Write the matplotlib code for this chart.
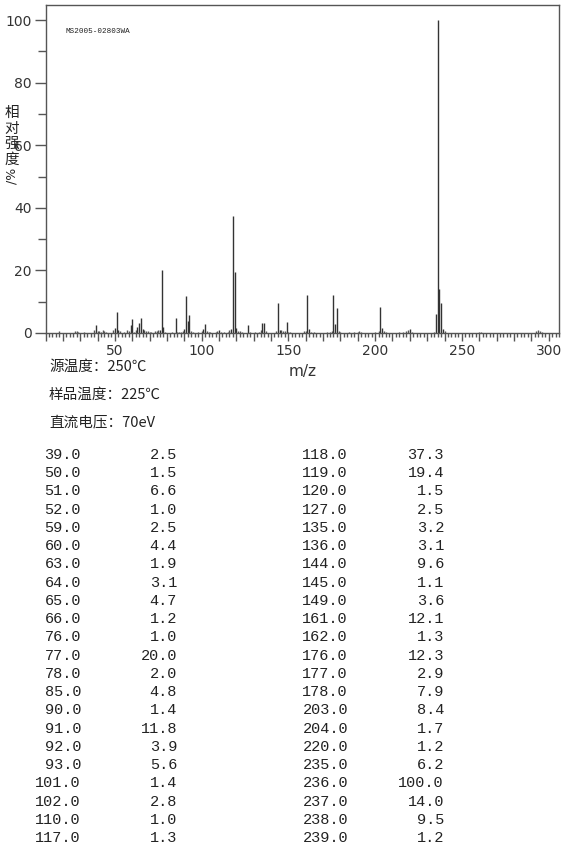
"""
Mass spectrum (MS2005-02803WA) with peak table.
"""

import matplotlib
matplotlib.use("Agg")
import matplotlib.pyplot as plt
from matplotlib.ticker import MultipleLocator, FuncFormatter

plt.rcParams["font.family"] = ["DejaVu Sans", "Noto Sans CJK SC"]

# -------------------------------
# Data
# -------------------------------
# listed peaks (m/z, relative intensity %)
table_mz = [39.0, 50.0, 51.0, 52.0, 59.0, 60.0, 63.0, 64.0, 65.0, 66.0, 76.0,
            77.0, 78.0, 85.0, 90.0, 91.0, 92.0, 93.0, 101.0, 102.0, 110.0, 117.0,
            118.0, 119.0, 120.0, 127.0, 135.0, 136.0, 144.0, 145.0, 149.0, 161.0,
            162.0, 176.0, 177.0, 178.0, 203.0, 204.0, 220.0, 235.0, 236.0, 237.0,
            238.0, 239.0]
table_int = [2.5, 1.5, 6.6, 1.0, 2.5, 4.4, 1.9, 3.1, 4.7, 1.2, 1.0,
             20.0, 2.0, 4.8, 1.4, 11.8, 3.9, 5.6, 1.4, 2.8, 1.0, 1.3,
             37.3, 19.4, 1.5, 2.5, 3.2, 3.1, 9.6, 1.1, 3.6, 12.1,
             1.3, 12.3, 2.9, 7.9, 8.4, 1.7, 1.2, 6.2, 100.0, 14.0,
             9.5, 1.2]

# small peaks seen in the spectrum but not in the table (estimated)
minor_mz = [18, 27, 28, 29, 32, 38, 40, 41, 42, 43, 44, 45, 49, 53, 55, 57, 58,
            61, 62, 67, 68, 69, 70, 71, 73, 74, 75, 79, 83, 86, 87, 88, 89, 94,
            95, 98, 100, 103, 104, 105, 108, 109, 111, 113, 115, 116, 121, 122,
            123, 128, 131, 133, 134, 137, 143, 146, 147, 148, 150, 151, 159, 160,
            163, 165, 172, 174, 175, 179, 180, 185, 188, 190, 191, 192, 200, 202,
            205, 206, 214, 216, 218, 219, 221, 234, 240, 260, 261, 293, 294, 295,
            296]
minor_int = [0.6, 0.5, 0.6, 0.3, 0.4, 0.8, 0.7, 0.6, 0.4, 0.9, 0.6, 0.3, 0.8,
             0.6, 0.4, 0.9, 0.6, 0.4, 0.9, 0.8, 0.5, 0.5, 0.4, 0.3, 0.5, 0.6,
             0.8, 0.3, 0.3, 0.4, 0.3, 0.4, 0.6, 0.5, 0.4, 0.2, 0.5, 0.5, 0.4,
             0.3, 0.4, 0.7, 0.4, 0.3, 0.4, 0.8, 0.7, 0.6, 0.3, 0.4, 0.3, 0.3,
             0.8, 0.5, 0.6, 0.8, 0.5, 0.6, 0.4, 0.3, 0.5, 0.6, 0.4, 0.3, 0.3,
             0.4, 0.6, 0.6, 0.3, 0.3, 0.3, 0.3, 0.5, 0.3, 0.4, 0.5, 0.7, 0.3,
             0.3, 0.4, 0.6, 0.8, 0.3, 0.4, 0.6, 0.4, 0.3, 0.6, 0.9, 0.6, 0.4]

conditions = ["源温度：250℃", "样品温度：225℃", "直流电压：70eV"]
ylabel_chars = ["相", "对", "强", "度"]
sample_id = "MS2005-02803WA"


def main():
    fig = plt.figure(figsize=(5.70, 8.67), dpi=100)
    W, H = 570, 867

    def fx(px):
        return px / W

    def fy(py):
        return 1 - py / H

    # -------------------------------
    # Spectrum
    # -------------------------------
    ax = fig.add_axes([fx(45.5), fy(333), fx(559 - 45.5), (333 - 5) / H])
    ax.vlines(minor_mz, 0, minor_int, color="#555555", lw=1.0)
    ax.vlines(table_mz, 0, table_int, color="#333333", lw=1.0)
    ax.set_xlim(10, 306)
    ax.set_ylim(0, 104.8)

    ax.xaxis.set_major_locator(MultipleLocator(10))
    ax.xaxis.set_minor_locator(MultipleLocator(2))
    ax.xaxis.set_major_formatter(
        FuncFormatter(lambda v, p: f"{int(v)}" if v % 50 == 0 else "")
    )
    ax.yaxis.set_major_locator(MultipleLocator(20))
    ax.yaxis.set_minor_locator(MultipleLocator(10))

    ax.tick_params(axis="both", which="major", length=6, width=1,
                   color="#555555", labelsize=10, labelcolor="#333333", pad=2)
    ax.tick_params(axis="x", which="minor", length=3, width=1, color="#555555")
    ax.tick_params(axis="y", which="minor", length=6, width=1, color="#555555")
    ax.tick_params(axis="y", which="major", length=8)
    for sp in ax.spines.values():
        sp.set_color("#555555")
        sp.set_linewidth(1)

    ax.set_xlabel("m/z", fontsize=11, color="#333333", labelpad=4)

    ax.text(0.039, 0.92, sample_id, transform=ax.transAxes, fontsize=5.5,
            family="Liberation Mono", color="#222222", va="center")

    # vertical y label
    for i, ch in enumerate(ylabel_chars):
        fig.text(fx(12), fy(113 + 15.5 * i), ch, fontsize=10.5,
                 family="Noto Sans CJK SC", ha="center", va="center",
                 color="#222222")
    fig.text(fx(12), fy(176), "/%", fontsize=9, rotation=90,
             ha="center", va="center", color="#222222")

    # -------------------------------
    # Measurement conditions
    # -------------------------------
    for i, line in enumerate(conditions):
        fig.text(fx(49), fy(367 + 27.5 * i), line, fontsize=10.5,
                 family=["Noto Sans CJK SC", "DejaVu Sans"],
                 va="center", ha="left", color="#222222")

    # -------------------------------
    # Peak table
    # -------------------------------
    n_rows = len(table_mz) // 2
    for i in range(len(table_mz)):
        col = i // n_rows
        row = i % n_rows
        y = fy(455 + 18.24 * row)
        x_mz = 81 if col == 0 else 348
        x_int = 177 if col == 0 else 444
        fig.text(fx(x_mz), y, f"{table_mz[i]:.1f}", fontsize=11,
                 family="Liberation Mono", ha="right", va="center",
                 color="#222222")
        fig.text(fx(x_int), y, f"{table_int[i]:.1f}", fontsize=11,
                 family="Liberation Mono", ha="right", va="center",
                 color="#222222")

    plt.savefig("out.png", dpi=100)
    plt.close()


if __name__ == "__main__":
    main()
